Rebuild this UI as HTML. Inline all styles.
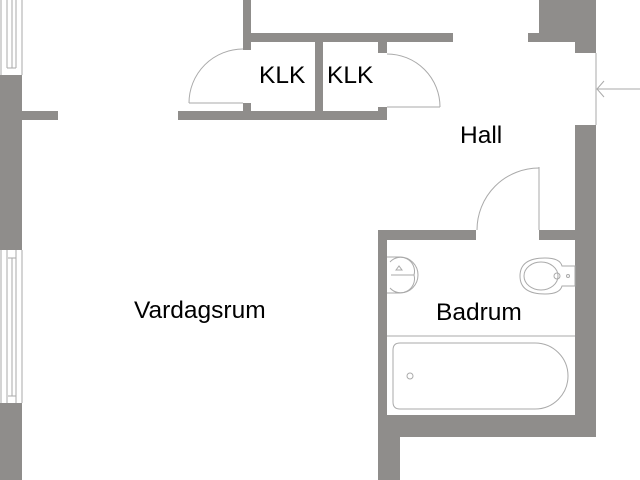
<!DOCTYPE html>
<html><head><meta charset="utf-8"><style>
html,body{margin:0;padding:0;background:#fff;}
svg{display:block;}
text{font-family:"Liberation Sans",sans-serif;font-size:24.5px;fill:#000;}
</style></head><body>
<svg width="640" height="480" viewBox="0 0 640 480" xmlns="http://www.w3.org/2000/svg">
<g fill="#8f8d8b">
<rect x="0" y="75" width="22" height="175"/>
<rect x="0" y="403" width="22" height="77"/>
<rect x="22" y="111" width="36" height="9"/>
<rect x="243" y="0" width="8" height="50"/>
<rect x="243" y="33" width="210" height="9"/>
<rect x="315" y="33" width="8" height="87"/>
<rect x="178" y="111" width="209" height="9"/>
<rect x="243" y="103" width="8" height="10"/>
<rect x="378" y="41" width="9" height="12"/>
<rect x="378" y="107" width="9" height="13"/>
<rect x="539" y="0" width="57" height="42"/>
<rect x="575" y="42" width="21" height="11"/>
<rect x="528" y="33" width="12" height="9"/>
<rect x="575" y="125" width="21" height="312"/>
<rect x="378" y="230" width="98" height="10"/>
<rect x="539" y="230" width="36" height="10"/>
<rect x="378" y="230" width="9" height="250"/>
<rect x="378" y="415" width="218" height="22"/>
<rect x="378" y="437" width="22" height="43"/>
</g>
<g fill="none" stroke="#aaa" stroke-width="1">
<line x1="1" y1="0" x2="1" y2="75"/><line x1="7" y1="0" x2="7" y2="68"/><line x1="12" y1="0" x2="12" y2="68"/><line x1="16" y1="0" x2="16" y2="68"/><line x1="22" y1="0" x2="22" y2="75"/><line x1="7" y1="68" x2="16" y2="68"/>
<line x1="1" y1="250" x2="1" y2="403"/><line x1="7" y1="250" x2="7" y2="403"/><line x1="12" y1="258" x2="12" y2="396"/><line x1="16" y1="250" x2="16" y2="403"/><line x1="22" y1="250" x2="22" y2="403"/><line x1="8" y1="396" x2="16" y2="396"/><line x1="8" y1="258" x2="16" y2="258"/>
<line x1="189" y1="103" x2="243" y2="103"/><path d="M189 103 A54 54 0 0 1 243 49"/>
<line x1="387" y1="107" x2="440" y2="107"/><path d="M387 54 A53 53 0 0 1 440 107"/>
<line x1="539" y1="167" x2="539" y2="230"/><path d="M477 230 A62 62 0 0 1 539 168"/>
<line x1="596" y1="53" x2="596" y2="125"/>
<line x1="597" y1="89" x2="640" y2="89"/><path d="M604 81 L597 89 L604 97"/>
<line x1="387" y1="336" x2="575" y2="336"/>
<path d="M400 343 H535 A33 33 0 0 1 535 409 H400 Q393 409 393 402 V350 Q393 343 400 343 Z"/>
<circle cx="410" cy="376" r="3"/>
<path d="M387 257 H400 A18 18 0 0 1 400 293 H387"/>
<path d="M390 262 A14 14 0 0 1 414 275 A14 14 0 0 1 390 288"/>
<path d="M396 270 L399 266 L402 270 Z"/><line x1="391" y1="275" x2="414" y2="275"/>
<path d="M545 258 Q520 258 520 276 Q520 294 545 294 Q560 294 562 286 L575 286 L575 266 L562 266 Q560 258 545 258 Z"/>
<ellipse cx="541" cy="276" rx="17" ry="14"/>
<circle cx="557" cy="276" r="3"/><circle cx="568" cy="276" r="1.5"/>
</g>
<text x="259" y="83">KLK</text>
<text x="327" y="83">KLK</text>
<text x="460" y="143">Hall</text>
<text x="436" y="320">Badrum</text>
<text x="134" y="318">Vardagsrum</text>
</svg>
</body></html>
